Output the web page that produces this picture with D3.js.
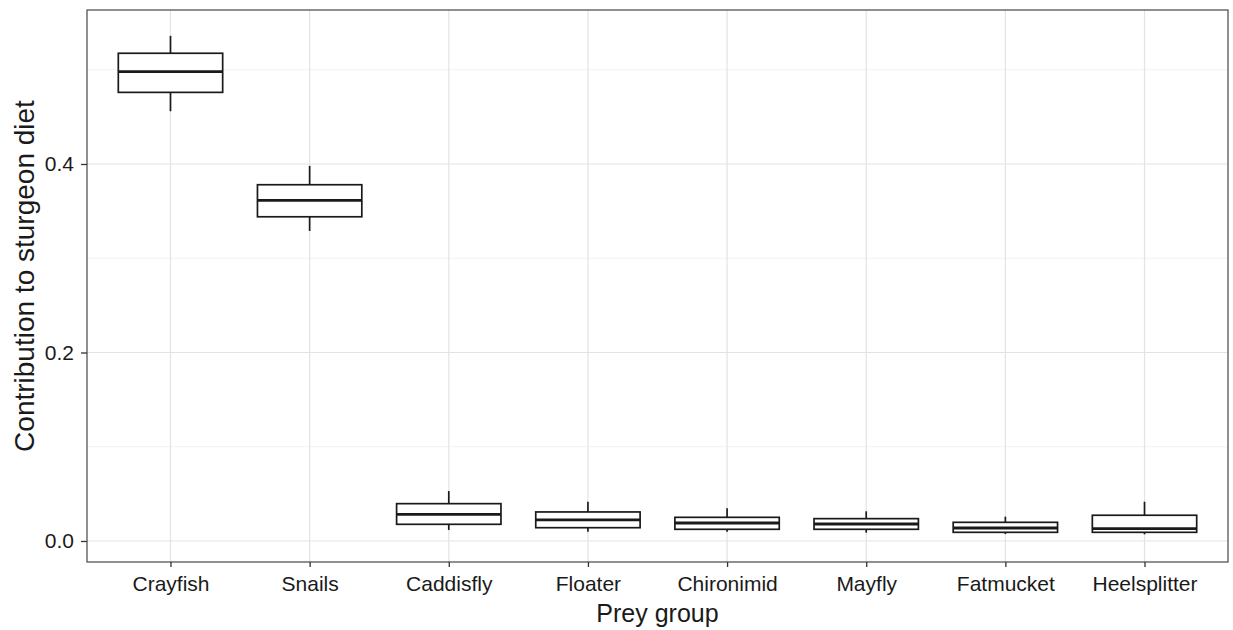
<!DOCTYPE html>
<html>
<head>
<meta charset="utf-8">
<script src="https://cdn.jsdelivr.net/npm/d3@7"></script>
<style>
  body { margin: 0; background: #fff; }
  svg { display: block; font-family: "Liberation Sans", Arial, sans-serif; }
</style>
</head>
<body>
<div id="container"></div>
<script>
// prey groups and their box statistics
var groups      = ["Crayfish", "Snails", "Caddisfly", "Floater", "Chironimid", "Mayfly", "Fatmucket", "Heelsplitter"];
var whiskerLow  = [0.456, 0.329, 0.0117, 0.0099, 0.0099, 0.0088, 0.0074, 0.0071];
var boxLow      = [0.476, 0.344, 0.0177, 0.0141, 0.0124, 0.0124, 0.0092, 0.0092];
var medians     = [0.498, 0.3615, 0.0283, 0.0223, 0.0191, 0.0180, 0.0138, 0.0131];
var boxHigh     = [0.5175, 0.378, 0.0396, 0.0308, 0.0251, 0.0237, 0.0198, 0.0273];
var whiskerHigh = [0.536, 0.398, 0.053, 0.0417, 0.0347, 0.0315, 0.0258, 0.0417];
var yTicks      = [0, 0.2, 0.4];
var yMinor      = [0.1, 0.3, 0.5];

var data = groups.map((g, i) => ({
    name: g, lo: whiskerLow[i], q1: boxLow[i], med: medians[i], q3: boxHigh[i], hi: whiskerHigh[i]
}));

const W = 1233, H = 630;
var margin = {top: 10, right: 5, bottom: 68, left: 87};
const width = W - margin.left - margin.right;
const height = H - margin.top - margin.bottom;

const x = d3.scalePoint()
    .domain(groups)
    .range([0, width])
    .padding(0.6);
const boxW = x.step() * 0.75;

const y = d3.scaleLinear()
    .domain([-0.0223, 0.5634])
    .range([height, 0]);

const svg = d3.select("#container")
    .append("svg")
        .attr("width", W)
        .attr("height", H);

const g = svg.append("g")
    .attr("transform", "translate(" + margin.left + "," + margin.top + ")");

// grid
g.append("g").selectAll()
    .data(yMinor)
    .join("line")
    .attr("x1", 0).attr("x2", width)
    .attr("y1", d => y(d)).attr("y2", d => y(d))
    .attr("stroke", "#f2f2f2").attr("stroke-width", 1);

g.append("g").selectAll()
    .data(yTicks)
    .join("line")
    .attr("x1", 0).attr("x2", width)
    .attr("y1", d => y(d)).attr("y2", d => y(d))
    .attr("stroke", "#e3e3e3").attr("stroke-width", 1.2);

g.append("g").selectAll()
    .data(groups)
    .join("line")
    .attr("x1", d => x(d)).attr("x2", d => x(d))
    .attr("y1", 0).attr("y2", height)
    .attr("stroke", "#e3e3e3").attr("stroke-width", 1.2);

// boxes
const box = g.append("g")
    .attr("stroke", "#1a1a1a")
    .selectAll()
    .data(data)
    .join("g");

box.append("line")
    .attr("x1", d => x(d.name)).attr("x2", d => x(d.name))
    .attr("y1", d => y(d.hi)).attr("y2", d => y(d.q3))
    .attr("stroke-width", 1.7);

box.append("line")
    .attr("x1", d => x(d.name)).attr("x2", d => x(d.name))
    .attr("y1", d => y(d.q1)).attr("y2", d => y(d.lo))
    .attr("stroke-width", 1.7);

box.append("rect")
    .attr("x", d => x(d.name) - boxW / 2)
    .attr("width", boxW)
    .attr("y", d => y(d.q3))
    .attr("height", d => y(d.q1) - y(d.q3))
    .attr("fill", "#fff")
    .attr("stroke-width", 1.7);

box.append("line")
    .attr("x1", d => x(d.name) - boxW / 2).attr("x2", d => x(d.name) + boxW / 2)
    .attr("y1", d => y(d.med)).attr("y2", d => y(d.med))
    .attr("stroke-width", 2.8);

// panel border
g.append("rect")
    .attr("width", width).attr("height", height)
    .attr("fill", "none")
    .attr("stroke", "#555").attr("stroke-width", 1.3);

// y-axis
const yAxis = g.append("g")
    .call(d3.axisLeft(y).tickValues(yTicks).tickFormat(d3.format(".1f")).tickSize(6).tickPadding(7));
yAxis.select(".domain").remove();
yAxis.selectAll(".tick line").attr("stroke", "#333").attr("stroke-width", 1.3);
yAxis.selectAll(".tick text").attr("fill", "#1a1a1a").style("font-size", "21px");

// x-axis
const xAxis = g.append("g")
    .attr("transform", "translate(0," + height + ")")
    .call(d3.axisBottom(x).tickSize(5).tickPadding(6));
xAxis.select(".domain").remove();
xAxis.selectAll(".tick line").attr("stroke", "#333").attr("stroke-width", 1.3);
xAxis.selectAll(".tick text").attr("fill", "#1a1a1a").style("font-size", "21px")
    .attr("dy", null).attr("y", 29);

// titles
svg.append("text")
    .attr("x", margin.left + width / 2)
    .attr("y", 622)
    .attr("text-anchor", "middle")
    .attr("fill", "#1a1a1a")
    .style("font-size", "25px")
    .text("Prey group");

svg.append("text")
    .attr("transform", "translate(34,276)rotate(-90)")
    .attr("text-anchor", "middle")
    .attr("fill", "#1a1a1a")
    .style("font-size", "28px")
    .text("Contribution to sturgeon diet");
</script>
</body>
</html>
